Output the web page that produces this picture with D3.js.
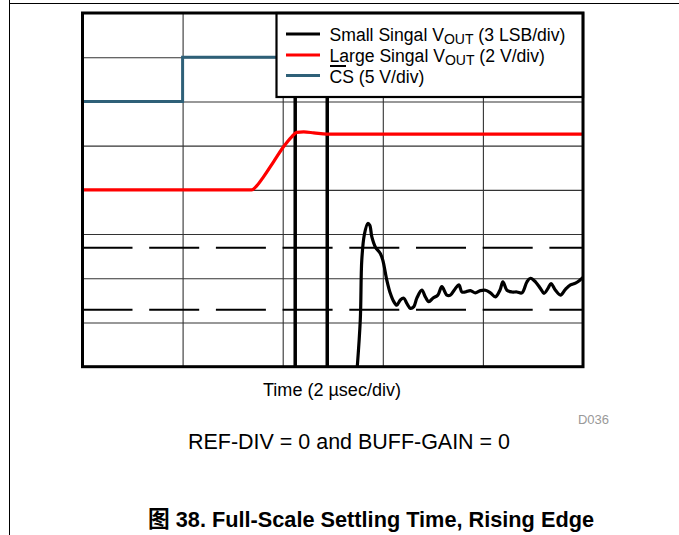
<!DOCTYPE html>
<html>
<head>
<meta charset="utf-8">
<script src="https://cdn.jsdelivr.net/npm/d3@7"></script>
<style>
  html, body { margin: 0; padding: 0; background: #fff; }
  svg { display: block; font-family: "Liberation Sans", Arial, Helvetica, sans-serif; }
</style>
</head>
<body>
<div id="chart"></div>
<script>
// ---- data (x in µs, y in scope divisions, 0 = centre line) ----
const xTicks = [0, 2, 4, 6, 8, 10];
const yTicks = [-4, -3, -2, -1, 0, 1, 2, 3, 4];

const csTime  = [0, 2, 2, 10];
const csValue = [2, 2, 3, 3];

const largeTime  = [0, 3.38, 3.48, 3.62, 3.82, 4.02, 4.18, 4.28, 4.42, 4.62, 4.88, 10];
const largeValue = [0, 0, 0.09, 0.30, 0.64, 0.98, 1.20, 1.30, 1.31, 1.29, 1.26, 1.26];

const smallTime = [5.47, 5.55, 5.58, 5.63, 5.70, 5.74, 5.78, 5.85, 5.95, 6.00, 6.08, 6.15, 6.22, 6.28,
  6.35, 6.42, 6.48, 6.55, 6.62, 6.68, 6.78, 6.85, 6.92, 7.00, 7.10, 7.18, 7.28, 7.35, 7.45, 7.52,
  7.58, 7.65, 7.75, 7.85, 7.95, 8.05, 8.15, 8.25, 8.34, 8.40, 8.48, 8.58, 8.68, 8.78, 8.88, 8.95,
  9.05, 9.15, 9.22, 9.30, 9.36, 9.45, 9.55, 9.65, 9.75, 9.85, 9.95, 10.0];
const smallValue = [-4.3, -2.95, -1.59, -1.02, -0.76, -0.80, -1.06, -1.29, -1.44, -1.59, -2.04, -2.34, -2.53, -2.61,
  -2.49, -2.45, -2.57, -2.68, -2.64, -2.45, -2.27, -2.42, -2.53, -2.45, -2.38, -2.19, -2.38, -2.38, -2.23, -2.15,
  -2.31, -2.31, -2.28, -2.33, -2.28, -2.27, -2.33, -2.42, -2.27, -2.08, -2.27, -2.31, -2.31, -2.33, -2.08, -2.00,
  -2.08, -2.23, -2.34, -2.23, -2.12, -2.27, -2.38, -2.25, -2.15, -2.11, -2.03, -1.98];

const limitLevels = [-1.31, -2.71];      // settling band (dashed)
const cursorTimes = [4.25, 4.89];        // time cursors

const legendLabels = [
  { main: "Small Singal V", sub: "OUT", tail: " (3 LSB/div)", color: "#000000" },
  { main: "Large Singal V", sub: "OUT", tail: " (2 V/div)", color: "#ff0000" },
  { main: "CS", sub: "", tail: " (5 V/div)", color: "#2e6078" }
];

// ---- drawing ----
const W = 679, H = 535;
const svg = d3.select("#chart").append("svg").attr("width", W).attr("height", H);

// page frame lines
svg.append("line").attr("x1", 9.5).attr("x2", 9.5).attr("y1", 0).attr("y2", H).attr("stroke", "#000").attr("stroke-width", 1);
svg.append("line").attr("x1", 9).attr("x2", W).attr("y1", 3.5).attr("y2", 3.5).attr("stroke", "#000").attr("stroke-width", 1);

const L = 82.5, R = 583, T = 13, B = 366.7;
const x = d3.scaleLinear().domain([0, 10]).range([L, R]);
const y = d3.scaleLinear().domain([-4, 4]).range([B, T]);

svg.append("defs").append("clipPath").attr("id", "clip")
  .append("rect").attr("x", L).attr("y", T).attr("width", R - L).attr("height", B - T);

// grid via axes
const gx = svg.append("g").attr("transform", `translate(0,${B})`)
  .call(d3.axisBottom(x).tickValues(xTicks).tickSize(-(B - T)).tickFormat(""));
const gy = svg.append("g").attr("transform", `translate(${L},0)`)
  .call(d3.axisLeft(y).tickValues(yTicks).tickSize(-(R - L)).tickFormat(""));
[gx, gy].forEach(g => {
  g.select(".domain").remove();
  g.selectAll(".tick line").attr("stroke", "#333").attr("stroke-width", 1.1);
});

const plot = svg.append("g").attr("clip-path", "url(#clip)");

// dashed settling band
plot.selectAll(".limit").data(limitLevels).enter().append("line")
  .attr("x1", x(0)).attr("x2", x(10))
  .attr("y1", d => y(d)).attr("y2", d => y(d))
  .attr("stroke", "#000").attr("stroke-width", 2)
  .attr("stroke-dasharray", "50,16.7");

// cursors
plot.selectAll(".cursor").data(cursorTimes).enter().append("line")
  .attr("x1", d => x(d)).attr("x2", d => x(d))
  .attr("y1", T).attr("y2", B)
  .attr("stroke", "#000").attr("stroke-width", 3.5);

const zip = (a, b) => a.map((v, i) => [v, b[i]]);

// CS
plot.append("path").datum(zip(csTime, csValue))
  .attr("d", d3.line().x(d => x(d[0])).y(d => y(d[1])))
  .attr("fill", "none").attr("stroke", "#2e6078").attr("stroke-width", 3);

// Large signal
plot.append("path").datum(zip(largeTime, largeValue))
  .attr("d", d3.line().x(d => x(d[0])).y(d => y(d[1])).curve(d3.curveMonotoneX))
  .attr("fill", "none").attr("stroke", "#ff0000").attr("stroke-width", 3.2);

// Small signal
plot.append("path").datum(zip(smallTime, smallValue))
  .attr("d", d3.line().x(d => x(d[0])).y(d => y(d[1])).curve(d3.curveCatmullRom.alpha(0.5)))
  .attr("fill", "none").attr("stroke", "#000").attr("stroke-width", 3.2)
  .attr("stroke-linejoin", "round");

// legend
const lg = svg.append("g");
lg.append("rect").attr("x", 276.5).attr("y", T).attr("width", R - 276.5).attr("height", 84)
  .attr("fill", "#fff").attr("stroke", "#000").attr("stroke-width", 2.2);
const rowY = [34, 55, 75.5];
const baseY = [40.7, 61.7, 83];
legendLabels.forEach((d, i) => {
  lg.append("line").attr("x1", 286).attr("x2", 320).attr("y1", rowY[i]).attr("y2", rowY[i])
    .attr("stroke", d.color).attr("stroke-width", 3.2);
  const t = lg.append("text").attr("x", 329.5).attr("y", baseY[i]).attr("font-size", 17.6).attr("fill", "#000");
  t.append("tspan").text(d.main);
  if (d.sub) {
    t.append("tspan").attr("font-size", 14).attr("dy", 3).text(d.sub);
    t.append("tspan").attr("dy", -3).text(d.tail);
  } else {
    t.append("tspan").text(d.tail);
  }
});
// overline for CS
lg.append("line").attr("x1", 330).attr("x2", 346).attr("y1", 66).attr("y2", 66)
  .attr("stroke", "#000").attr("stroke-width", 2);

// frame
svg.append("rect").attr("x", L).attr("y", T).attr("width", R - L).attr("height", B - T)
  .attr("fill", "none").attr("stroke", "#000").attr("stroke-width", 3);

// texts
svg.append("text").attr("x", 332).attr("y", 396).attr("text-anchor", "middle")
  .attr("font-size", 18).attr("textLength", 138).attr("lengthAdjust", "spacingAndGlyphs")
  .text("Time (2 \u00b5sec/div)");
svg.append("text").attr("x", 609).attr("y", 424).attr("text-anchor", "end")
  .attr("font-size", 13).attr("fill", "#999").text("D036");
svg.append("text").attr("x", 349).attr("y", 449).attr("text-anchor", "middle")
  .attr("font-size", 22).attr("textLength", 322).attr("lengthAdjust", "spacingAndGlyphs")
  .text("REF-DIV = 0 and BUFF-GAIN = 0");
svg.append("text").attr("x", 371).attr("y", 527).attr("text-anchor", "middle")
  .attr("font-size", 22.5).attr("font-weight", "bold").attr("textLength", 446).attr("lengthAdjust", "spacingAndGlyphs")
  .style("font-family", "'Liberation Sans', 'Noto Sans CJK SC', sans-serif")
  .text("\u56fe 38. Full-Scale Settling Time, Rising Edge");
</script>
</body>
</html>
